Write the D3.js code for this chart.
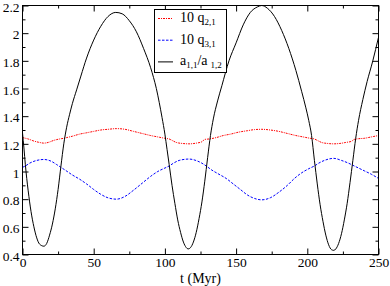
<!DOCTYPE html>
<html>
<head>
<meta charset="utf-8">
<script src="https://cdn.jsdelivr.net/npm/d3@7/dist/d3.min.js"></script>
<style>
  body { margin: 0; background: #fff; }
  svg { display: block; }
  text { font-family: "Liberation Serif", "DejaVu Serif", serif; }
</style>
</head>
<body>
<div id="container"></div>
<script>
////////// DATA

// a_{1,1}/a_{1,2}, solid black
var blackT = [0, 1, 2, 4, 6, 8, 10, 12, 15, 17, 19, 21, 23, 25, 27, 29, 31, 33, 35, 38, 41, 45, 50, 55, 60, 65.5, 70, 75, 80, 85, 90, 92, 94, 96, 98,
  100, 101.5, 103, 105, 107, 109, 111, 113, 115, 116.3, 118, 120, 122, 124, 126, 128, 130, 132, 134, 137, 140, 145, 150, 155, 160, 165, 168,
  172, 177, 182, 187, 192, 196, 199, 201, 203, 205, 207, 209, 211, 213, 215, 217, 218.6, 220, 222, 224, 226, 228, 230, 232, 234, 236,
  239, 242, 246, 250];
var blackV = [1.28, 1.17, 1.05, 0.86, 0.71, 0.60, 0.52, 0.475, 0.46, 0.48, 0.54, 0.62, 0.73, 0.87, 1.04, 1.20, 1.32, 1.41, 1.49, 1.59, 1.69, 1.82, 1.95, 2.05, 2.12, 2.15, 2.14, 2.09, 2.01, 1.89, 1.75, 1.68, 1.60, 1.50, 1.39,
  1.27, 1.16, 1.05, 0.90, 0.77, 0.65, 0.56, 0.49, 0.45, 0.44, 0.45, 0.49, 0.56, 0.66, 0.78, 0.93, 1.10, 1.26, 1.38, 1.51, 1.62, 1.80, 1.93, 2.06, 2.15, 2.19, 2.20,
  2.18, 2.12, 2.02, 1.89, 1.73, 1.58, 1.46, 1.37, 1.26, 1.08, 0.91, 0.76, 0.64, 0.54, 0.47, 0.435, 0.43, 0.44, 0.48, 0.55, 0.65, 0.77, 0.92, 1.08, 1.24, 1.37,
  1.52, 1.65, 1.80, 1.97];

// 10 q_{2,1}, red dash-dot
var redT = [0, 4, 8, 12, 15, 18, 22, 26, 29, 31, 35, 40, 45, 50, 55, 60, 66, 72, 78, 84, 90, 95, 100, 103, 105, 108, 112, 117, 122, 126, 128, 131,
  136, 141, 146, 152, 158, 163, 168, 174, 180, 186, 192, 197, 202, 205, 207, 210, 214, 218.5, 223, 227, 231, 233, 236, 240, 245, 250];
var redV = [1.245, 1.235, 1.22, 1.21, 1.205, 1.21, 1.225, 1.235, 1.24, 1.245, 1.255, 1.27, 1.28, 1.29, 1.30, 1.305, 1.31, 1.305, 1.29, 1.275, 1.26, 1.25, 1.24, 1.235, 1.225, 1.21, 1.203, 1.20, 1.205, 1.215, 1.232, 1.235,
  1.245, 1.26, 1.27, 1.285, 1.295, 1.303, 1.305, 1.30, 1.29, 1.275, 1.26, 1.25, 1.24, 1.235, 1.225, 1.21, 1.203, 1.20, 1.203, 1.21, 1.218, 1.232, 1.237, 1.24, 1.25, 1.26];

// 10 q_{3,1}, blue dashed
var blueT = [0, 2, 5, 10, 15, 20, 24, 27, 30, 35, 40, 45, 50, 55, 60, 66, 72, 78, 84, 90, 95, 100, 103, 106, 110, 117, 123, 126, 129, 133,
  138, 143, 148, 153, 158, 163, 168, 174, 180, 186, 191, 196, 201, 205, 208, 212, 218.6, 224, 229, 232, 236, 240, 245, 250];
var blueV = [1.03, 1.04, 1.06, 1.08, 1.087, 1.075, 1.05, 1.03, 1.01, 0.975, 0.945, 0.91, 0.87, 0.835, 0.81, 0.80, 0.82, 0.865, 0.915, 0.965, 1.00, 1.025, 1.04, 1.06, 1.08, 1.09, 1.075, 1.06, 1.04, 1.01,
  0.98, 0.95, 0.91, 0.87, 0.83, 0.805, 0.795, 0.81, 0.85, 0.90, 0.95, 0.99, 1.02, 1.04, 1.06, 1.08, 1.095, 1.08, 1.06, 1.045, 1.025, 1.005, 0.98, 0.95];

var xTicks = [0, 50, 100, 150, 200, 250];
var xMinor = [25, 75, 125, 175, 225];
var yTicks = [0.4, 0.6, 0.8, 1, 1.2, 1.4, 1.6, 1.8, 2, 2.2];
var yMinor = [0.5, 0.7, 0.9, 1.1, 1.3, 1.5, 1.7, 1.9, 2.1];
var xTitle = "t (Myr)";

////////// DRAWING

var gWidth = 390, gHeight = 286;
var mLeft = 22.5, mRight = 378.5, mTop = 5.5, mBottom = 254.5;
var serif = "'Liberation Serif', 'DejaVu Serif', serif";

var svg = d3.select("#container").append("svg")
  .attr("width", gWidth)
  .attr("height", gHeight);

var x = d3.scaleLinear().domain([0, 250]).range([mLeft, mRight]);
var y = d3.scaleLinear().domain([0.4, 2.2]).range([mBottom, mTop]);

function tickStyle(g) {
  g.attr("font-family", serif).attr("font-size", 13.5);
  g.select(".domain").remove();
  g.selectAll(".tick line").attr("stroke", "#000").attr("stroke-width", 1);
  g.selectAll(".tick text").attr("fill", "#000");
}

// bottom and top axis
svg.append("g").attr("transform", "translate(0," + mBottom + ")")
  .call(d3.axisBottom(x).tickValues(xTicks).tickSize(-6).tickPadding(3).tickFormat(d3.format("d")))
  .call(tickStyle);
svg.append("g").attr("transform", "translate(0," + mBottom + ")")
  .call(d3.axisBottom(x).tickValues(xMinor).tickSize(-3).tickFormat(""))
  .call(tickStyle);
svg.append("g").attr("transform", "translate(0," + mTop + ")")
  .call(d3.axisTop(x).tickValues(xTicks).tickSize(-6).tickFormat(""))
  .call(tickStyle);
svg.append("g").attr("transform", "translate(0," + mTop + ")")
  .call(d3.axisTop(x).tickValues(xMinor).tickSize(-3).tickFormat(""))
  .call(tickStyle);

// left and right axis
svg.append("g").attr("transform", "translate(" + mLeft + ",0)")
  .call(d3.axisLeft(y).tickValues(yTicks).tickSize(-6).tickPadding(3).tickFormat(function(d) { return String(+d.toFixed(1)); }))
  .call(tickStyle)
  .call(function(g) { g.selectAll(".tick text").attr("dy", "0.42em"); });
svg.append("g").attr("transform", "translate(" + mLeft + ",0)")
  .call(d3.axisLeft(y).tickValues(yMinor).tickSize(-3).tickFormat(""))
  .call(tickStyle);
svg.append("g").attr("transform", "translate(" + mRight + ",0)")
  .call(d3.axisRight(y).tickValues(yTicks).tickSize(-6).tickFormat(""))
  .call(tickStyle);
svg.append("g").attr("transform", "translate(" + mRight + ",0)")
  .call(d3.axisRight(y).tickValues(yMinor).tickSize(-3).tickFormat(""))
  .call(tickStyle);

// curves
function zipPts(ts, vs) { return ts.map(function(t, i) { return [t, vs[i]]; }); }
var line = d3.line()
  .x(function(d) { return x(d[0]); })
  .y(function(d) { return y(d[1]); })
  .curve(d3.curveMonotoneX);

var plot = svg.append("g");
plot.append("path").datum(zipPts(redT, redV))
  .attr("d", line).attr("fill", "none")
  .attr("stroke", "#ff0000").attr("stroke-width", 1)
  .attr("stroke-dasharray", "2,1,1,1");
plot.append("path").datum(zipPts(blueT, blueV))
  .attr("d", line).attr("fill", "none")
  .attr("stroke", "#0000ff").attr("stroke-width", 1)
  .attr("stroke-dasharray", "2.5,1.5");
plot.append("path").datum(zipPts(blackT, blackV))
  .attr("d", line).attr("fill", "none")
  .attr("stroke", "#000").attr("stroke-width", 1);

// frame
svg.append("rect")
  .attr("x", mLeft).attr("y", mTop)
  .attr("width", mRight - mLeft).attr("height", mBottom - mTop)
  .attr("fill", "none").attr("stroke", "#000").attr("stroke-width", 1);

// x axis title
svg.append("text")
  .attr("x", (mLeft + mRight) / 2).attr("y", 283)
  .attr("text-anchor", "middle")
  .attr("font-family", serif)
  .attr("font-size", 14)
  .text(xTitle);

// legend
var legendList = [
  { main: "10 q", sub: "2,1", color: "#ff0000", dash: "2,1,1,1" },
  { main: "10 q", sub: "3,1", color: "#0000ff", dash: "2.5,1.5" },
  { main: "a", sub: "1,1", main2: "/a", sub2: "1,2", color: "#000", dash: null }
];
var lg = svg.append("g").attr("font-family", serif);
lg.append("rect")
  .attr("x", 154.5).attr("y", 9.5).attr("width", 72).attr("height", 63)
  .attr("fill", "#fff").attr("stroke", "#000").attr("stroke-width", 1);
legendList.forEach(function(item, i) {
  var yl = 18.5 + i * 21.7;
  lg.append("line")
    .attr("x1", 158).attr("x2", 173).attr("y1", yl).attr("y2", yl)
    .attr("stroke", item.color).attr("stroke-width", 1)
    .attr("stroke-dasharray", item.dash);
  var t = lg.append("text")
    .attr("x", 180).attr("y", yl + 3.5)
    .attr("font-size", 14);
  t.append("tspan").text(item.main);
  t.append("tspan").attr("dy", 3).attr("font-size", 9).text(item.sub);
  if (item.main2) {
    t.append("tspan").attr("dy", -3).text(item.main2);
    t.append("tspan").attr("dy", 3).attr("dx", 3).attr("font-size", 9).text(item.sub2);
  }
});
</script>
</body>
</html>
